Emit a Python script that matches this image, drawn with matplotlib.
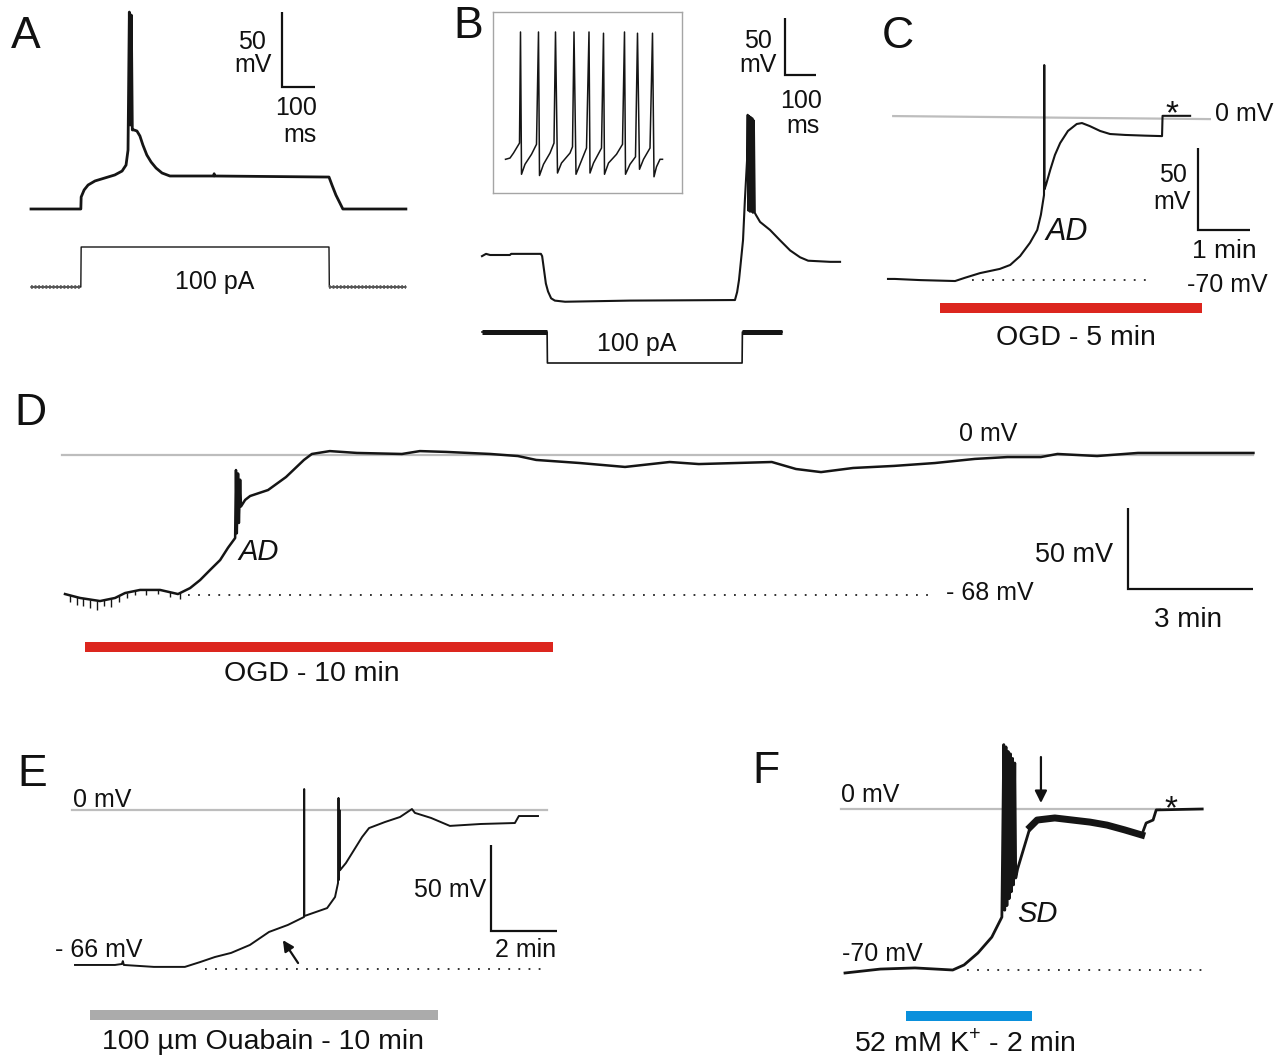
import numpy as np
import matplotlib.pyplot as plt

W, H = 1288, 1057

plt.rcParams['font.family'] = ['Liberation Sans', 'DejaVu Sans']
plt.rcParams['mathtext.fontset'] = 'custom'
plt.rcParams['mathtext.rm'] = 'Liberation Sans'

TRACE = '#151515'
ZERO = '#bdbdbd'
OGD_RED = '#dc261e'
OUA_GRAY = '#ababab'
K_BLUE = '#0a90dc'

# ---- panel A: current-clamp step (ms, mV) ----
A_t = [0, 151, 152, 161, 173, 194, 224, 254, 276, 288, 294, 298, 301, 304, 307,
       312, 321, 330, 339, 351, 364, 379, 397, 421, 554, 555, 556, 903, 912, 924,
       936, 945, 1136]
A_v = [-70, -70, -62, -57.3, -54, -51.3, -49.3, -47.3, -44.7, -40.7, -30.7, 61.3,
       -14, 59.3, -17.3, -17.3, -18, -21.3, -27.3, -34, -38.7, -42.7, -46, -48,
       -48, -46.5, -48, -48.7, -54, -60.7, -66, -70, -70]
A_I_t = [0, 151, 152, 903, 904, 1136]
A_I = [0, 0, 100, 100, 0, 0]
A_bar = (760, 11.3, 100, 50)

# ---- panel B: hyperpolarising step, rebound burst (ms, mV) ----
B_t = [0, 13, 26, 90, 94, 190, 194, 200, 206, 213, 223, 235, 268, 477, 816, 823,
       829, 835, 842, 848, 855, 857, 859, 862, 864, 867, 869, 872, 874, 877, 880,
       884, 897, 929, 961, 994, 1026, 1052, 1123, 1155]
B_v = [-66, -64, -65, -65, -64, -64, -66, -78, -90, -97, -103, -105, -106, -105,
       -104.5, -97.5, -87, -71, -52, -17, 18, 58, -26, 57, -27, 56, -27, 55, -28,
       53, -28, -30, -36, -43, -52, -61, -67, -70, -71, -71]
B_I_t = [0, 210, 211, 839, 840, 968]
B_I = [0, 0, -100, -100, 0, 0]
B_bar = (977, 93, 100, 50)

# inset: tonic firing
INS_t = [25, 34, 41, 47, 53, 55, 57, 64, 77, 87, 91, 93, 101, 114, 122, 125, 129,
         137, 154, 159, 162, 166, 174, 187, 192, 194, 201, 217, 221, 223, 231, 247,
         259, 263, 265, 274, 285, 289, 293, 301, 314, 319, 322, 327, 334, 339]
INS_v = [-63, -62, -58, -54, -50, 39, -75, -67, -59, -51, 39, -76, -67, -58, -50,
         39, -74, -66, -58, -53, 39, -75, -67, -54, 39, -74, -66, -54, 38, -75, -66,
         -59, -51, 39, -75, -67, -61, 38, -71, -63, -54, 38, -77, -69, -63, -63]

# ---- panel C: OGD 5 min (min, mV) ----
C_t = [0, 0.13, 0.62, 1.29, 1.48, 1.77, 2.15, 2.35, 2.54, 2.73, 2.87, 2.94, 3.0,
       3.005, 3.01, 3.04, 3.12, 3.21, 3.31, 3.46, 3.63, 3.73, 3.88, 4.08, 4.27,
       4.56, 4.94, 5.27, 5.28, 5.81]
C_v = [-69.5, -69.5, -70, -70.4, -69, -67, -65.2, -63.5, -59.7, -54, -48.5, -42,
       -33.5, 22.3, -31, -29, -22.7, -16.3, -11.2, -6, -3, -2.6, -3.9, -6, -7.3,
       -7.7, -8, -8.2, 0.5, 0.5]
C_zero = ([0.1, 6.19], [0.4, -0.9])
C_rest = ([1.62, 5.04], -70)
C_ogd = (1.0, 6.04, -82)
C_bar = (5.96, -48.5, 1, 35.2)

# ---- panel D: OGD 10 min (min, mV) ----
D_t = [0, 0.36, 0.84, 1.2, 1.44, 1.8, 2.28, 2.71, 3.0, 3.24, 3.48, 3.72, 3.91,
       4.08, 4.1, 4.12, 4.15, 4.17, 4.2, 4.22, 4.32, 4.44, 4.87, 5.3, 5.73, 5.92,
       6.35, 7.0, 8.08, 8.51, 9.14, 10.2, 10.86, 11.3, 12.35, 13.43, 14.5, 15.2,
       16.95, 17.53, 18.13, 18.9, 19.88, 20.86, 21.82, 22.6, 23.4, 23.8, 24.75,
       25.73, 26.7, 28.5]
D_v = [-67.5, -69.4, -70.9, -69.4, -67, -65.5, -65.5, -67.5, -64.6, -60.7, -55.8,
       -51, -45, -40.3, -7.3, -38, -9, -33, -12, -25, -21.8, -19.9, -17, -10.7,
       -2.4, 0.5, 1.9, 1, 0.5, 1.9, 1.5, 0.5, -0.5, -2.4, -3.9, -5.8, -3.4, -4.4,
       -3.4, -6.8, -8.3, -6.3, -5.3, -3.9, -1.9, -1, -1, 0.5, -0.5, 1, 1, 1]
D_tick_t = [0.12, 0.29, 0.43, 0.6, 0.77, 0.94, 1.1, 1.29, 1.49, 1.68, 1.94, 2.23,
            2.52, 2.76]
D_tick_d = [3, 4, 3.5, 4, 4.5, 3, 4, 3, 2.5, 2, 2.5, 2, 2.5, 3]
D_zero = ([-0.07, 28.5], 0)
D_rest = ([2.95, 20.86], -68)
D_ogd = (0.48, 11.7, -93)
D_bar = (25.5, -65, 3, 39.3)

# ---- panel E: ouabain (min, mV) ----
E_t = [0, 1.21, 1.42, 1.45, 1.48, 2.39, 3.33, 3.79, 4.24, 4.73, 5.3, 5.88, 6.45,
       6.94, 6.945, 6.95, 7.64, 7.88, 7.97, 7.985, 8.0, 8.015, 8.03, 8.21, 8.7,
       8.91, 9.39, 9.85, 10.21, 10.3, 10.79, 11.36, 12.3, 13.33, 13.45, 14.03]
E_v = [-64.3, -64.3, -63.9, -62.7, -64.3, -65.1, -65.1, -63.1, -61, -59.3, -56,
       -50.6, -47.7, -44.4, 8.7, -44, -40.7, -36.1, -30.3, 5, -29, 0, -25, -22,
       -11.2, -7.5, -5, -2.9, 0.4, -1.2, -3.3, -6.6, -5.8, -5.4, -2.5, -2.5]
E_zero = ([-0.09, 14.3], 0)
E_rest = ([3.94, 14.15], -66)
E_oua = (0.45, 11.0, -85)
E_bar = (12.6, -50.2, 2, 35.7)
E_arrow = ((6.3, -54), (6.76, -63.5))

# ---- panel F: high K+ (min, mV) ----
F_t = [0, 0.56, 1.11, 1.71, 1.89, 2.11, 2.33, 2.49, 2.52, 2.535, 2.555, 2.57,
       2.59, 2.605, 2.625, 2.64, 2.66, 2.675, 2.695, 2.71, 2.74, 2.83, 2.94, 3.05,
       3.33, 3.89, 4.16, 4.44, 4.71, 4.78, 4.89, 4.94, 5.67]
F_v = [-71.3, -69.6, -69.1, -70, -67.8, -62.6, -55.7, -47, 28, -44, 27, -42, 25,
       -39, 24, -36, 22, -33, 20, -30, -26, -17.8, -7.8, -4.8, -3.9, -5.7, -7,
       -9.1, -11.3, -6.1, -4.8, -0.4, 0]
F_zero = ([-0.06, 5.0], 0)
F_rest = ([1.94, 5.71], -70)
F_k = (0.97, 2.97, -90)
F_arrow = ((3.11, 2.6), (3.11, 22.6))

fig = plt.figure(figsize=(W / 100, H / 100), dpi=100)


def panel_axes(x_px, y_px, t0, v0, px_t, px_v):
    """transparent full-figure axes where (t0, v0) lands on pixel (x_px, y_px)"""
    ax = fig.add_axes([0, 0, 1, 1])
    ax.set_axis_off()
    ax.set_xlim(t0 - x_px / px_t, t0 + (W - x_px) / px_t)
    ax.set_ylim(v0 - (H - y_px) / px_v, v0 + y_px / px_v)
    return ax


def label(x, y, s, size=18, ha='center', style='normal'):
    em = size * 100 / 72
    fig.text(x / W, 1 - (y + 0.36 * em) / H, s, fontsize=size, ha=ha,
             va='baseline', style=style, color='#111111')


def scalebar(ax, bar):
    t, v, dt, dv = bar
    ax.plot([t, t, t + dt], [v + dv, v, v], color='#111111', lw=1.6,
            solid_joinstyle='miter', solid_capstyle='butt')


def ref_lines(ax, zero, rest):
    zt, zv = zero
    ax.plot(zt, np.broadcast_to(zv, len(zt)), color=ZERO, lw=1.6)
    rt, rv = rest
    ax.plot(rt, [rv, rv], color='#222222', lw=1.3, linestyle=(0, (1, 4.6)))


def treat_bar(ax, bar, color):
    t0, t1, v = bar
    ax.plot([t0, t1], [v, v], color=color, lw=7.2, solid_capstyle='butt')


# A
ax = panel_axes(31, 209, 0, -70, 0.33, 1.5)
ax.plot(A_t, A_v, color=TRACE, lw=2.0)
scalebar(ax, A_bar)
ax = panel_axes(31, 287, 0, 0, 0.33, 0.4)
ax.plot(A_I_t, A_I, color=TRACE, lw=1.0)
ax.plot(A_I_t[:2], A_I[:2], color='#555555', lw=2.6, linestyle=(0, (0.5, 0.5)))
ax.plot(A_I_t[-2:], A_I[-2:], color='#555555', lw=2.6, linestyle=(0, (0.5, 0.5)))

# B
ax = panel_axes(482, 255, 0, -65, 0.31, 1.14)
ax.plot(B_t, B_v, color=TRACE, lw=1.5)
scalebar(ax, B_bar)
ax = panel_axes(482, 332, 0, 0, 0.31, 0.31)
ax.plot(B_I_t, B_I, color=TRACE, lw=1.2)
ax.plot(B_I_t[:2], B_I[:2], color=TRACE, lw=3.6, solid_capstyle='butt')
ax.plot(B_I_t[-2:], B_I[-2:], color=TRACE, lw=3.6, solid_capstyle='butt')

ins = fig.add_axes([493 / W, 1 - 193 / H, 189 / W, 181 / H])
ins.plot(INS_t, INS_v, color=TRACE, lw=1.1)
ins.set_xlim(0, 378)
ins.set_ylim(-90, 55)
ins.set_xticks([])
ins.set_yticks([])
for sp in ins.spines.values():
    sp.set_color('#a5a5a5')
    sp.set_linewidth(1.0)

# C
ax = panel_axes(888, 117, 0, 0, 52, 2.33)
ref_lines(ax, C_zero, C_rest)
ax.plot(C_t, C_v, color=TRACE, lw=1.5)
treat_bar(ax, C_ogd, OGD_RED)
scalebar(ax, C_bar)

# D
ax = panel_axes(65, 455, 0, 0, 41.7, 2.06)
ref_lines(ax, D_zero, D_rest)
ax.plot(D_t, D_v, color=TRACE, lw=1.8)
base = np.interp(D_tick_t, D_t, D_v)
ax.vlines(D_tick_t, base - np.array(D_tick_d), base, color=TRACE, lw=1.0)
treat_bar(ax, D_ogd, OGD_RED)
scalebar(ax, D_bar)

# E
ax = panel_axes(75, 810, 0, 0, 33, 2.41)
ref_lines(ax, E_zero, E_rest)
ax.plot(E_t, E_v, color=TRACE, lw=1.4)
treat_bar(ax, E_oua, OUA_GRAY)
scalebar(ax, E_bar)
ax.annotate('', xy=E_arrow[0], xytext=E_arrow[1],
            arrowprops=dict(arrowstyle='-|>', color='#111111', lw=1.6,
                            mutation_scale=16, shrinkA=0, shrinkB=0))

# F
ax = panel_axes(845, 809, 0, 0, 63, 2.3)
ref_lines(ax, F_zero, F_rest)
ax.plot(F_t, F_v, color=TRACE, lw=2.0)
ax.plot(F_t[22:29], F_v[22:29], color=TRACE, lw=5.0)
treat_bar(ax, F_k, K_BLUE)
ax.annotate('', xy=F_arrow[0], xytext=F_arrow[1],
            arrowprops=dict(arrowstyle='-|>', color='#111111', lw=1.6,
                            mutation_scale=18, shrinkA=0, shrinkB=0))

# panel letters
label(26, 32, 'A', 32)
label(468, 22, 'B', 32)
label(898, 32, 'C', 32)
label(30, 409, 'D', 32)
label(32, 770, 'E', 32)
label(766, 767, 'F', 32)

# A texts
label(252, 40, '50')
label(253, 63, 'mV')
label(296, 106, '100')
label(300, 133, 'ms')
label(215, 280, '100 pA')

# B texts
label(758, 39, '50')
label(758, 63, 'mV')
label(801, 99, '100')
label(803, 124, 'ms')
label(637, 342, '100 pA')

# C texts
label(1172, 111, '*', 24)
label(1215, 112, '0 mV', ha='left')
label(1173, 173, '50')
label(1172, 200, 'mV')
label(1224, 248, '1 min', 19)
label(1067, 229, 'AD', 22, style='italic')
label(1227, 283, '-70 mV')
label(1076, 335, 'OGD - 5 min', 20.5)

# D texts
label(988, 432, '0 mV')
label(1074, 552, '50 mV', 19.5)
label(990, 591, '- 68 mV')
label(1188, 617, '3 min', 20)
label(259, 550, 'AD', 21, style='italic')
label(312, 671, 'OGD - 10 min', 20.5)

# E texts
label(102, 798, '0 mV')
label(99, 948, '- 66 mV')
label(450, 888, '50 mV')
label(526, 948, '2 min')
label(263, 1039, '100 µm Ouabain - 10 min', 20.5)

# F texts
label(870, 793, '0 mV')
label(882, 952, '-70 mV')
label(1037, 912, 'SD', 21, style='italic')
label(1171, 806, '*', 24)
label(965, 1041, '52 mM K$^{+}$ - 2 min', 20.5)

fig.savefig('out.png', dpi=100)
plt.close(fig)
